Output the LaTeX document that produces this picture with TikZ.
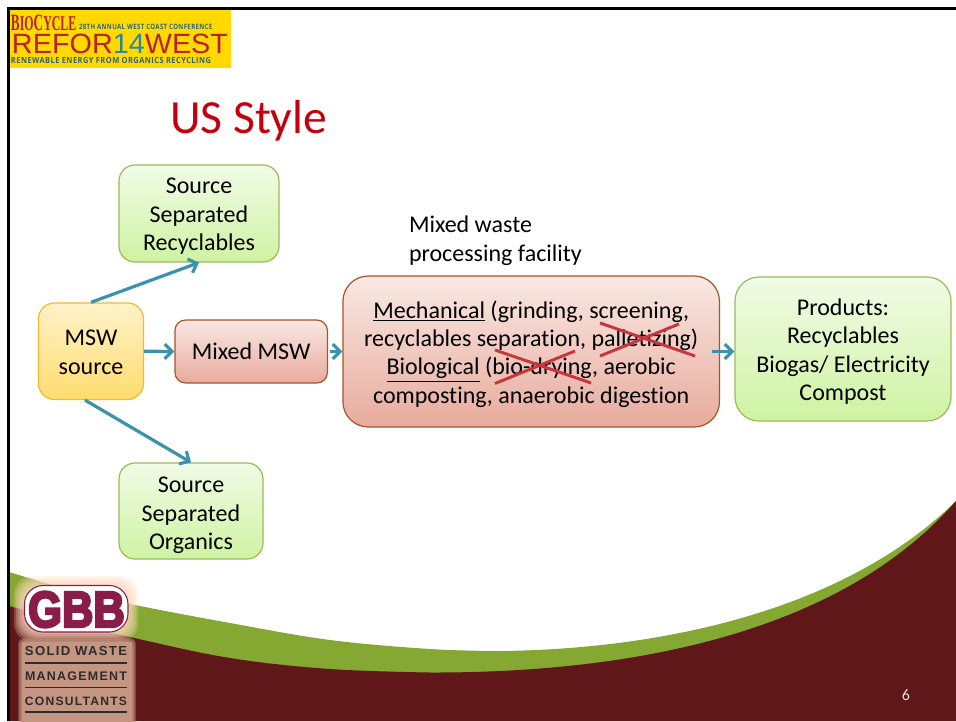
\documentclass[tikz,border=0pt]{standalone}
\usepackage{fontspec}
\usepackage{graphicx}
\usetikzlibrary{arrows.meta,calc}
\setmainfont[Ligatures=CommonOff]{Carlito}
\newfontfamily\arialfont{Liberation Sans}
\newfontfamily\opensansfont[BoldFeatures={LetterSpace=6}]{Open Sans}
\newfontfamily\gbbfont[BoldFeatures={FakeBold=5}]{Liberation Sans}
\newfontfamily\gbbsmall[BoldFeatures={LetterSpace=10}]{Liberation Sans}
\newfontfamily\serifbc{Liberation Serif}
\newcommand\lowtext[2]{\raisebox{-#1}[\height][\depth]{\begin{tabular}{@{}c@{}}#2\end{tabular}}}
\definecolor{wavemaroon}{HTML}{5F1719}
\definecolor{wavegreen}{HTML}{85A832}
\definecolor{titlered}{HTML}{C4000F}
\definecolor{flowteal}{HTML}{3A92AC}
\definecolor{crossred}{HTML}{C8353C}
\definecolor{greenedge}{HTML}{9BBB59}
\definecolor{greentop}{HTML}{F1FBE6}
\definecolor{greenbot}{HTML}{CEF3A2}
\definecolor{orangeedge}{HTML}{F6B92E}
\definecolor{orangetop}{HTML}{FFF2C9}
\definecolor{orangebot}{HTML}{FFDC6E}
\definecolor{rededge}{HTML}{A5552A}
\definecolor{redtop}{HTML}{F9E8E4}
\definecolor{redbot}{HTML}{E8AB9C}
\definecolor{logoyellow}{HTML}{FFD900}
\definecolor{logored}{HTML}{B9202C}
\definecolor{logoblue}{HTML}{2C86A6}
\definecolor{logotext}{HTML}{2F6478}
\definecolor{gbbmaroon}{HTML}{8A1C4A}
\definecolor{panelbrown}{HTML}{C49682}
\definecolor{glowpeach}{HTML}{FFD9BE}
\definecolor{gbbdark}{HTML}{2E2B2B}
\tikzset{
  boxbase/.style={draw,rounded corners=#1,line width=0.9pt,inner sep=0pt,
    font=\fontsize{18}{21.3}\selectfont,text=black},
  greenbox/.style={boxbase=#1,draw=greenedge,top color=greentop,bottom color=greenbot},
  orangebox/.style={boxbase=#1,draw=orangeedge,top color=orangetop,bottom color=orangebot},
  redbox/.style={boxbase=#1,draw=rededge,top color=redtop,bottom color=redbot},
  flowarrow/.style={draw=flowteal,line width=2.4pt,-{Straight Barb[length=5.5pt,width=11pt,line width=2.4pt]}},
  crossmark/.style={draw=crossred,line width=2.2pt},
  plain/.style={inner sep=0pt,outer sep=0pt},
  bodytext/.style={plain,font=\fontsize{18}{21.6}\selectfont,text=black}
}
\begin{document}
\begin{tikzpicture}[x=0.75pt,y=-0.75pt]
\useasboundingbox (0,0) rectangle (956,721);
\fill[white] (0,0) rectangle (956,721);
% wave
\fill[wavegreen] plot[smooth,tension=0.6] coordinates {(9,572) (70,590) (130,604) (230,623) (330,640) (430,649) (497,651)}
  .. controls (650,650) and (840,615) .. (956,501)
  -- (956,721) -- (9,721) -- cycle;
\fill[wavemaroon] plot[smooth,tension=0.6] coordinates {(9,606) (70,622) (130,637) (230,658) (330,669) (430,672.5)}
  .. controls (600,673) and (830,645) .. (956,501)
  -- (956,721) -- (9,721) -- cycle;
% frame
\fill[black] (7,7) rectangle (956,9.5);
\fill[black] (7,7) rectangle (9.5,721);
% top logo
\fill[logoyellow] (10,10) rectangle (231,68);
\node[plain,anchor=base west,text=logored] (biocycle) at (11,30)
  {\resizebox{49pt}{11.6pt}{\serifbc\bfseries B{\small IO}C{\small YCLE}}};
\node[plain,anchor=base west,text=logotext] (conf) at (79,29.3)
  {\resizebox{100pt}{4pt}{\opensansfont\bfseries 28TH ANNUAL WEST COAST CONFERENCE}};
\node[plain,anchor=base west] (refor) at (12,53.5)
  {\resizebox{162pt}{14.6pt}{\arialfont\textcolor{logored}{REFOR}\textcolor{logoblue}{14}\textcolor{logored}{WEST}}};
\node[plain,anchor=base west,text=logotext] (renew) at (11,63.5)
  {\resizebox{150pt}{4.6pt}{\opensansfont\bfseries RENEWABLE ENERGY FROM ORGANICS RECYCLING}};
% GBB glow and panel
\foreach \o in {10,8,6,4,2}{
  \fill[glowpeach,opacity=0.26,rounded corners=14pt] (24-\o,586-\o) rectangle (128+\o,632+\o);
}
\foreach \o in {4,3,2,1,0}{
  \fill[panelbrown,opacity=0.35,rounded corners=4pt] (22-\o,642-\o) rectangle (132+\o,730);
}
\fill[panelbrown] (22,642) rectangle (132,730);
\draw[gbbmaroon,line width=0.8pt,fill=white,rounded corners=14pt] (24.5,585.5) rectangle (128,632);
\node[plain,text=gbbmaroon] (gbb) at (76.5,609.5)
  {\resizebox{72.5pt}{26.5pt}{\gbbfont\bfseries GBB}};
\node[plain,anchor=base,text=gbbdark] (solid) at (76,655.5)
  {\resizebox{76.5pt}{!}{\gbbsmall\bfseries SOLID WASTE}};
\node[plain,anchor=base,text=gbbdark] (mgmt) at (76,680.5)
  {\resizebox{76.5pt}{!}{\gbbsmall\bfseries MANAGEMENT}};
\node[plain,anchor=base,text=gbbdark] (cons) at (76,705)
  {\resizebox{76.5pt}{!}{\gbbsmall\bfseries CONSULTANTS}};
\draw[gbbdark,line width=1.1pt] (25,663) -- (127,663);
\draw[gbbdark,line width=1.1pt] (25,687.5) -- (127,687.5);
\draw[gbbdark,line width=1.1pt] (25,712) -- (127,712);
% title
\node[plain,anchor=base west,text=titlered,font=\fontsize{35.7}{43}\selectfont] (title) at (170,133.5) {US Style};
% boxes
\node[greenbox=12pt,minimum width=120pt,minimum height=72.75pt] (rec) at (199,213.5) {\lowtext{2.4pt}{Source\\Separated\\Recyclables}};
\node[greenbox=12pt,minimum width=108pt,minimum height=72pt] (org) at (191,511) {\lowtext{3.4pt}{Source\\Separated\\Organics}};
\node[orangebox=12pt,minimum width=78.75pt,minimum height=72.4pt] (msw) at (91,351.2) {\lowtext{2.2pt}{MSW\\source}};
\node[redbox=8pt,minimum width=114.4pt,minimum height=47.25pt] (mixed) at (251.2,351.5) {\lowtext{2pt}{Mixed MSW}};
\node[redbox=19pt,minimum width=282.4pt,minimum height=113.25pt] (mech) at (531.2,351.5)
  {\lowtext{2.6pt}{\underline{Mechanical} (grinding, screening,\\recyclables separation, palletizing)\\\underline{Biological} (bio-drying, aerobic\\composting, anaerobic digestion}};
\node[greenbox=18pt,minimum width=162pt,minimum height=108pt] (prod) at (843,349)
  {\lowtext{2.6pt}{Products:\\Recyclables\\Biogas/ Electricity\\Compost}};
\node[bodytext,anchor=west,align=left] (fac) at (409,240.5) {Mixed waste\\processing facility};
\node[plain,text=white!88!black,font=\fontsize{12}{14}\selectfont] (pagenum) at (906,695) {6};
% connectors
\draw[flowarrow] (msw.north) -- (rec.south);
\draw[flowarrow] ($(msw.south)+(-6,0)$) -- (org.north);
\draw[flowarrow] (msw.east) -- (mixed.west);
\draw[flowarrow] ($(mixed.east)+(2,0)$) -- (mech.west);
\draw[flowarrow] ($(mech.east)+(-8,0)$) -- ($(prod.west)+(0,2.5)$);
% strike-through crosses
\coordinate (ca1) at (495,350); \coordinate (ca2) at (591,383);
\coordinate (ca3) at (495,383.5); \coordinate (ca4) at (575,351);
\coordinate (cb1) at (600,323); \coordinate (cb2) at (695,356);
\coordinate (cb3) at (600,356); \coordinate (cb4) at (679,324);
\draw[crossmark] (ca1) -- (ca2);
\draw[crossmark] (ca3) -- (ca4);
\draw[crossmark] (cb1) -- (cb2);
\draw[crossmark] (cb3) -- (cb4);
\end{tikzpicture}
\end{document}
